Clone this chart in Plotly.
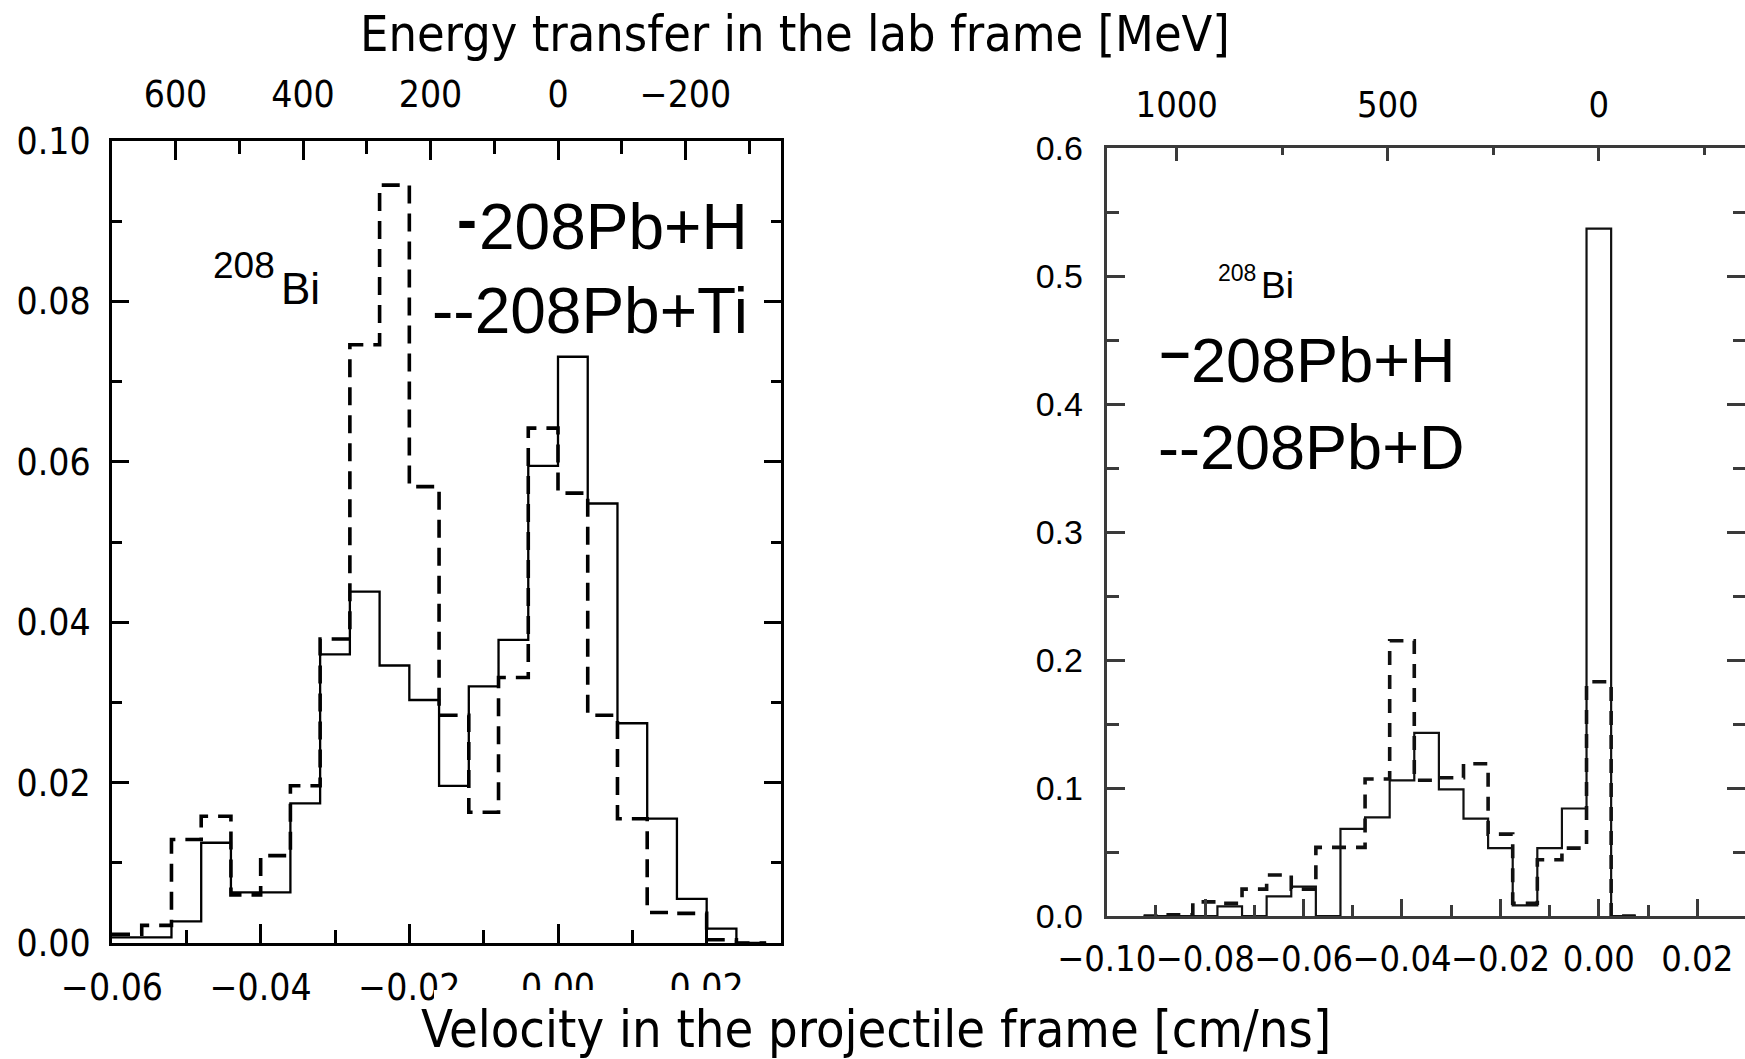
import plotly.graph_objects as go

# ---------------- data ----------------
# energy transfer (MeV) per unit of velocity (cm/ns) used by the top axes
MEV_PER_V = 11660.0

# left panel: 208Pb+H (solid) vs 208Pb+Ti (dashed), bin width 0.004
left_bin_w = 0.004
left_v = [-0.058, -0.054, -0.050, -0.046, -0.042, -0.038, -0.034, -0.030,
          -0.026, -0.022, -0.018, -0.014, -0.010, -0.006, -0.002, 0.002,
          0.006, 0.010, 0.014, 0.018, 0.022, 0.026]
left_H = [0.0007, 0.0007, 0.0027, 0.0125, 0.0063, 0.0063, 0.0174, 0.0360,
          0.0438, 0.0346, 0.0303, 0.0196, 0.0320, 0.0378, 0.0595, 0.0731,
          0.0548, 0.0274, 0.0155, 0.0055, 0.0018, 0.0]
left_Ti = [0.0011, 0.0022, 0.0129, 0.0158, 0.0060, 0.0109, 0.0196, 0.0379,
           0.0746, 0.0945, 0.0569, 0.0284, 0.0163, 0.0331, 0.0642, 0.0561,
           0.0284, 0.0155, 0.0038, 0.0037, 0.0004, 0.0]

# right panel: 208Pb+H (solid) vs 208Pb+D (dashed), bin width 0.005
right_bin_w = 0.005
right_v = [-0.090, -0.085, -0.080, -0.075, -0.070, -0.065, -0.060, -0.055,
           -0.050, -0.045, -0.040, -0.035, -0.030, -0.025, -0.020, -0.015,
           -0.010, -0.005, 0.000, 0.005]
right_H = [0.0, 0.0, 0.0, 0.0075, 0.0, 0.0153, 0.0229, 0.0, 0.068, 0.077,
           0.106, 0.143, 0.099, 0.076, 0.053, 0.0083, 0.053, 0.084, 0.537, 0.0]
right_D = [0.0, 0.001, 0.011, 0.0099, 0.021, 0.032, 0.021, 0.0536, 0.0536,
           0.107, 0.215, 0.106, 0.108, 0.119, 0.064, 0.010, 0.044, 0.053,
           0.183, 0.0]

left_xrange = [-0.06, 0.03]
left_yrange = [0.0, 0.10]
right_xrange = [-0.10, 0.0297]
right_yrange = [0.0, 0.6]

top_title = "Energy transfer in the lab frame [MeV]"
bottom_title = "Velocity in the projectile frame [cm/ns]"

# ---------------- helpers ----------------
W, H = 1745, 1059


def X(px):
    return px / W


def Y(py):
    return 1 - py / H


def steps(centers, vals, w):
    xs = [c - w / 2 for c in centers] + [centers[-1] + w / 2]
    ys = list(vals) + [vals[-1]]
    return xs, ys


COND = "DejaVu Sans Condensed, Liberation Sans Narrow, DejaVu Sans"
NARROW = "Liberation Sans Narrow, DejaVu Sans Condensed, Liberation Sans"
HELV = "Liberation Sans, Arial, Helvetica"

fig = go.Figure()

# left histograms
xs, ys = steps(left_v, left_H, left_bin_w)
fig.add_trace(go.Scatter(x=xs, y=ys, mode="lines", line_shape="hv",
                         line=dict(color="black", width=2.3),
                         xaxis="x", yaxis="y", showlegend=False))
xs, ys = steps(left_v, left_Ti, left_bin_w)
fig.add_trace(go.Scatter(x=xs, y=ys, mode="lines", line_shape="hv",
                         line=dict(color="black", width=3.6, dash="18px,10px"),
                         xaxis="x", yaxis="y", showlegend=False))

# right histograms
xs, ys = steps(right_v, right_H, right_bin_w)
fig.add_trace(go.Scatter(x=xs, y=ys, mode="lines", line_shape="hv",
                         line=dict(color="#111", width=2.2),
                         xaxis="x3", yaxis="y3", showlegend=False))
xs, ys = steps(right_v, right_D, right_bin_w)
fig.add_trace(go.Scatter(x=xs, y=ys, mode="lines", line_shape="hv",
                         line=dict(color="#111", width=3.6, dash="14px,10px"),
                         xaxis="x3", yaxis="y3", showlegend=False))

# invisible carriers so that the energy (top) axes are drawn
left_top_range = [left_xrange[0] * -MEV_PER_V, left_xrange[1] * -MEV_PER_V]
right_top_range = [right_xrange[0] * -MEV_PER_V, right_xrange[1] * -MEV_PER_V]
fig.add_trace(go.Scatter(x=left_top_range, y=[0, 0], mode="markers",
                         marker=dict(opacity=0), hoverinfo="skip",
                         xaxis="x2", yaxis="y", showlegend=False))
fig.add_trace(go.Scatter(x=right_top_range, y=[0, 0], mode="markers",
                         marker=dict(opacity=0), hoverinfo="skip",
                         xaxis="x4", yaxis="y3", showlegend=False))

LD = [X(112), X(781)]
LYD = [Y(943), Y(141)]
RD = [X(1106.7), 1.0]
RYD = [Y(916), Y(148)]

black_axis = dict(showline=True, linecolor="black", linewidth=3,
                  showgrid=False, zeroline=False, ticks="inside",
                  tickcolor="black", tickwidth=3, automargin=False,
                  tickangle=0)
gray_axis = dict(showline=True, linecolor="#3a3a3a", linewidth=3,
                 showgrid=False, zeroline=False, ticks="inside",
                 tickcolor="#3a3a3a", tickwidth=2.5, automargin=False,
                 tickangle=0)

fig.update_layout(
    width=W, height=H, autosize=False,
    margin=dict(l=0, r=0, t=0, b=0, pad=0),
    paper_bgcolor="white", plot_bgcolor="white",
    showlegend=False,
    xaxis=dict(**black_axis, domain=LD, range=left_xrange, anchor="y",
               dtick=0.02, tick0=0, tickformat=".2f", ticklen=19,
               minor=dict(dtick=0.01, tick0=0, ticks="inside", ticklen=13,
                          tickwidth=3, tickcolor="black"),
               tickfont=dict(family=COND, size=37, color="black"),
               ticklabelstandoff=10),
    xaxis2=dict(**black_axis, overlaying="x", side="top", anchor="y",
                range=left_top_range,
                dtick=200, tick0=0, tickformat="d", ticklen=19,
                minor=dict(dtick=100, tick0=0, ticks="inside", ticklen=13,
                           tickwidth=3, tickcolor="black"),
                tickfont=dict(family=COND, size=37, color="black"),
                ticklabelstandoff=16),
    yaxis=dict(**black_axis, domain=LYD, range=left_yrange, anchor="x",
               mirror="ticks", dtick=0.02, tick0=0, tickformat=".2f",
               ticklen=17,
               minor=dict(dtick=0.01, tick0=0, ticks="inside", ticklen=10,
                          tickwidth=3, tickcolor="black"),
               tickfont=dict(family=COND, size=37, color="black"),
               ticklabelstandoff=11),
    xaxis3=dict(**gray_axis, domain=RD, range=right_xrange, anchor="y3",
                dtick=0.02, tick0=0, tickformat=".2f", ticklen=17,
                minor=dict(dtick=0.01, tick0=0, ticks="inside", ticklen=11,
                           tickwidth=2.5, tickcolor="#3a3a3a"),
                tickfont=dict(family=NARROW, size=36, color="black"),
                ticklabelstandoff=9),
    xaxis4=dict(**gray_axis, overlaying="x3", side="top", anchor="y3",
                range=right_top_range,
                dtick=500, tick0=0, tickformat="d", ticklen=13,
                minor=dict(dtick=250, tick0=0, ticks="inside", ticklen=7,
                           tickwidth=2.5, tickcolor="#3a3a3a"),
                tickfont=dict(family=NARROW, size=36, color="black"),
                ticklabelstandoff=14),
    yaxis3=dict(**gray_axis, domain=RYD, range=right_yrange, anchor="x3",
                mirror="ticks", dtick=0.1, tick0=0, tickformat=".1f",
                ticklen=18,
                minor=dict(dtick=0.05, tick0=0, ticks="inside", ticklen=12,
                           tickwidth=2.5, tickcolor="#3a3a3a"),
                tickfont=dict(family=HELV, size=34, color="black"),
                ticklabelstandoff=14),
)

# white box of the pasted bottom caption (partly hides some tick labels)
fig.add_shape(type="rect", xref="paper", yref="paper",
              x0=X(434), x1=X(1336), y0=Y(1059), y1=Y(990),
              fillcolor="white", line=dict(width=0), layer="above")

ann = []
# titles
ann.append(dict(text=top_title, x=X(795), y=Y(34), xanchor="center",
                yanchor="middle", font=dict(family=COND, size=50, color="black")))
ann.append(dict(text=bottom_title, x=X(876), y=Y(1029), xanchor="center",
                yanchor="middle", font=dict(family=COND, size=52, color="black")))
# left panel labels
ann.append(dict(text="208", x=X(211), y=Y(266), xanchor="left", yanchor="middle",
                font=dict(family=HELV, size=37, color="black")))
ann.append(dict(text="Bi", x=X(279), y=Y(288), xanchor="left", yanchor="middle",
                font=dict(family=HELV, size=44, color="black")))
ann.append(dict(text="<b>-</b>", x=X(455), y=Y(219), xanchor="left", yanchor="middle",
                font=dict(family=HELV, size=60, color="black")))
ann.append(dict(text="208Pb+H", x=X(750), y=Y(227), xanchor="right", yanchor="middle",
                font=dict(family=HELV, size=64, color="black")))
ann.append(dict(text="--208Pb+Ti", x=X(750), y=Y(311), xanchor="right", yanchor="middle",
                font=dict(family=HELV, size=64, color="black")))
# right panel labels
ann.append(dict(text="208", x=X(1216), y=Y(273), xanchor="left", yanchor="middle",
                font=dict(family=HELV, size=23, color="black")))
ann.append(dict(text="Bi", x=X(1259), y=Y(285), xanchor="left", yanchor="middle",
                font=dict(family=HELV, size=37, color="black")))
ann.append(dict(text="<b>–</b>", x=X(1158), y=Y(351), xanchor="left", yanchor="middle",
                font=dict(family=HELV, size=54, color="black")))
ann.append(dict(text="208Pb+H", x=X(1189), y=Y(360), xanchor="left", yanchor="middle",
                font=dict(family=HELV, size=63, color="black")))
ann.append(dict(text="--208Pb+D", x=X(1156), y=Y(447), xanchor="left", yanchor="middle",
                font=dict(family=HELV, size=63, color="black")))

for a in ann:
    a.update(xref="paper", yref="paper", showarrow=False)
fig.update_layout(annotations=ann)

fig.write_html("out.html")
